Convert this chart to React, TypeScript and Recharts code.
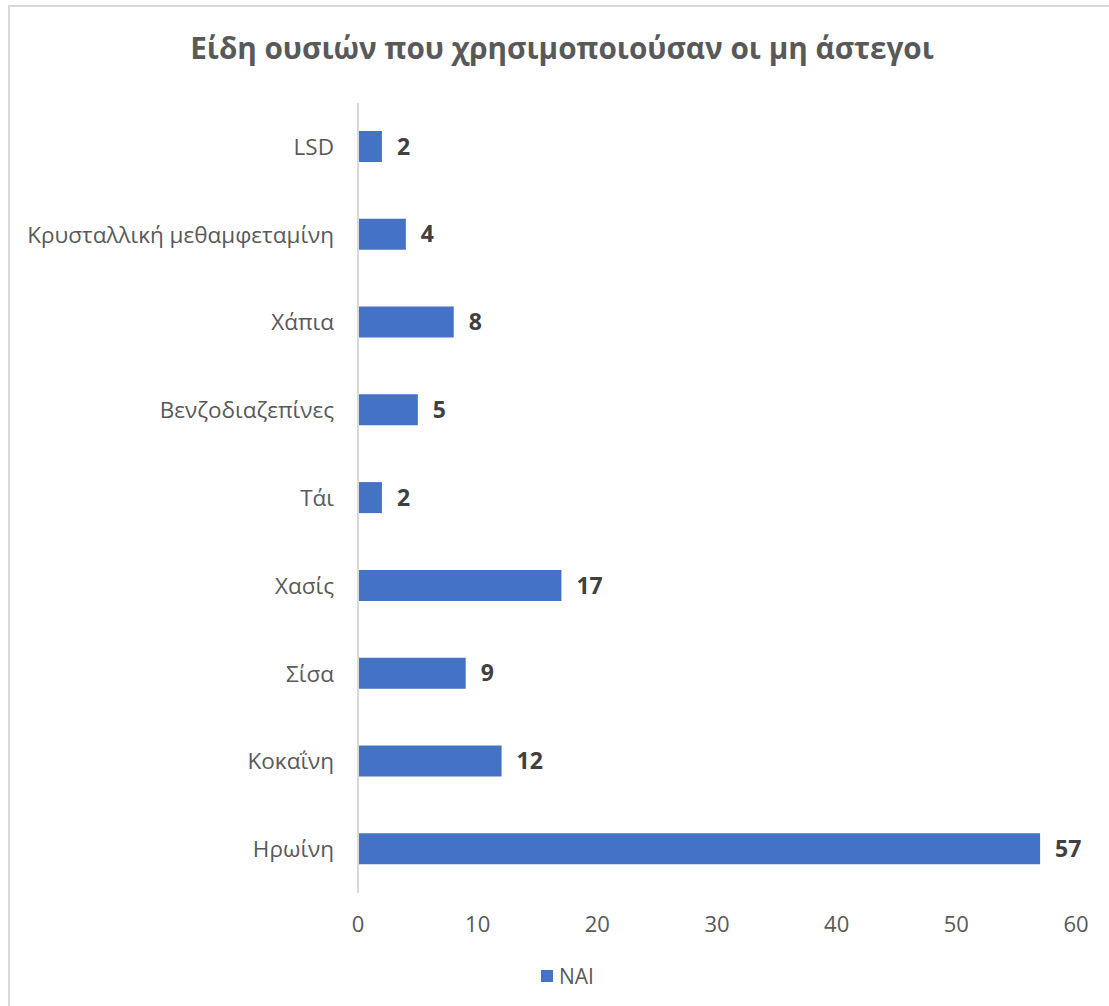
import React from 'react';
import { BarChart, Bar, XAxis, YAxis, LabelList, Legend } from 'recharts';

const categories = [
  'LSD',
  'Κρυσταλλική μεθαμφεταμίνη',
  'Χάπια',
  'Βενζοδιαζεπίνες',
  'Τάι',
  'Χασίς',
  'Σίσα',
  'Κοκαΐνη',
  'Ηρωίνη',
];
const values = [2, 4, 8, 5, 2, 17, 9, 12, 57];
const xTicks = [0, 10, 20, 30, 40, 50, 60];
const seriesName = 'NAI';
const title = 'Είδη ουσιών που χρησιμοποιούσαν οι μη άστεγοι';

const data = categories.map((c, i) => ({ name: c, value: values[i] }));

const FONT = '"Open Sans", "Noto Sans", sans-serif';
const BLUE = '#4472C4';

const LegendContent = () => (
  <div style={{ display: 'flex', justifyContent: 'center', alignItems: 'center', height: 24, paddingLeft: 15, fontFamily: FONT }}>
    <span style={{ display: 'inline-block', width: 12, height: 12, background: BLUE, marginRight: 6 }} />
    <span style={{ fontSize: 21, color: '#595959' }}>{seriesName}</span>
  </div>
);

export default function App() {
  return (
    <div
      style={{
        position: 'absolute',
        left: 8,
        top: 5,
        width: 1101,
        height: 1001,
        borderTop: '2px solid #d9d9d9',
        borderLeft: '2px solid #d9d9d9',
        boxSizing: 'border-box',
        background: '#fff',
        fontFamily: FONT,
      }}
    >
      <div
        style={{
          position: 'absolute',
          left: 0,
          top: 20,
          width: 1100,
          textAlign: 'center',
          fontSize: 29.7,
          fontWeight: 700,
          color: '#595959',
          fontFamily: FONT,
          whiteSpace: 'nowrap',
          paddingLeft: 4,
          boxSizing: 'border-box',
        }}
      >
        {title}
      </div>
      <div style={{ position: 'absolute', left: 0, top: 0 }}>
        <BarChart
          width={1100}
          height={1000}
          data={data}
          layout="vertical"
          margin={{ top: 96, right: 34, bottom: 50, left: 0 }}
          barSize={31}
        >
          <XAxis
            type="number"
            domain={[0, 60]}
            ticks={xTicks}
            axisLine={false}
            tickLine={false}
            tickSize={0}
            tickMargin={23}
            height={40}
            tick={{ fill: '#595959', fontSize: 22, fontFamily: FONT }}
          />
          <YAxis
            type="category"
            dataKey="name"
            width={348}
            axisLine={{ stroke: '#d9d9d9', strokeWidth: 2 }}
            tickLine={false}
            tickSize={0}
            tickMargin={24}
            interval={0}
            tick={{ fill: '#595959', fontSize: 22.5, fontFamily: FONT }}
          />
          <Legend
            verticalAlign="bottom"
            height={24}
            wrapperStyle={{ top: 957, left: 0, width: 1100 }}
            content={<LegendContent />}
          />
          <Bar dataKey="value" name={seriesName} fill={BLUE} isAnimationActive={false}>
            <LabelList
              dataKey="value"
              position="right"
              offset={15}
              fill="#404040"
              fontSize={23}
              fontWeight={700}
              fontFamily={FONT}
            />
          </Bar>
        </BarChart>
      </div>
    </div>
  );
}
